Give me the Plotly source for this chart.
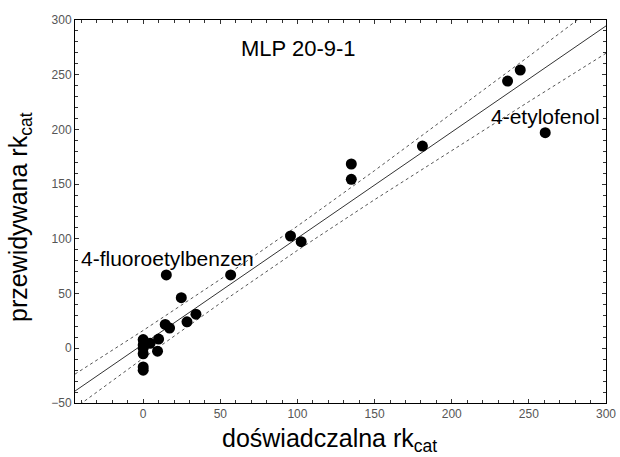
import plotly.graph_objects as go

# Observed (experimental) vs predicted rk_cat values
obs_x = [0, 0, 0, 0, 0, 0, 4.5, 9.3, 10, 14.3, 15, 17.1, 24.7, 28.4, 34.2, 56.7,
         95.5, 102.4, 134.9, 134.9, 181, 236.2, 244.4, 260.6]
pred_y = [8, 3, 0, -5, -17, -20, 4.5, -2.6, 8.4, 21.8, 67, 18.5, 46.2, 24.2, 31.2, 67,
          102.6, 97.4, 168.4, 154.4, 184.8, 244.2, 254.3, 197]

# Regression line and confidence band
fit_x = [-44.2, 300]
fit_y = [-39.1, 294.6]
band_x = [-44.2, 0, 50, 100, 150, 200, 250, 300]
band_upper = [-23.6, 16.3, 63.0, 111.7, 162.4, 214.3, 266.8, 319.6]
band_lower = [-54.6, -9.1, 41.2, 89.5, 135.8, 180.9, 225.4, 269.6]

x_ticks = [0, 50, 100, 150, 200, 250, 300]
y_ticks = [-50, 0, 50, 100, 150, 200, 250, 300]

FONT = "Arial, Liberation Sans, sans-serif"

fig = go.Figure()
fig.add_trace(go.Scatter(x=band_x, y=band_upper, mode="lines",
                         line=dict(color="#555555", width=1, dash="3px,3px"),
                         hoverinfo="skip", showlegend=False))
fig.add_trace(go.Scatter(x=band_x, y=band_lower, mode="lines",
                         line=dict(color="#555555", width=1, dash="3px,3px"),
                         hoverinfo="skip", showlegend=False))
fig.add_trace(go.Scatter(x=fit_x, y=fit_y, mode="lines",
                         line=dict(color="#333333", width=1),
                         hoverinfo="skip", showlegend=False))
fig.add_trace(go.Scatter(x=obs_x, y=pred_y, mode="markers",
                         marker=dict(color="black", size=11),
                         showlegend=False))

fig.add_annotation(x=100.6, y=274, text="MLP 20-9-1", showarrow=False,
                   font=dict(family=FONT, size=22, color="black"))
fig.add_annotation(x=15.6, y=82.4, text="4-fluoroetylbenzen", showarrow=False,
                   font=dict(family=FONT, size=21, color="black"))
fig.add_annotation(x=261, y=212, text="4-etylofenol", showarrow=False,
                   font=dict(family=FONT, size=21, color="black"))

# Axis titles
fig.add_annotation(xref="paper", yref="paper", x=0.48, y=-0.097, yanchor="middle",
                   text="doświadczalna rk<sub>cat</sub>", showarrow=False,
                   font=dict(family=FONT, size=25, color="black"))
fig.add_annotation(xref="paper", yref="paper", x=-0.104, y=0.485, xanchor="center",
                   textangle=-90, text="przewidywana rk<sub>cat</sub>", showarrow=False,
                   font=dict(family=FONT, size=25, color="black"))

axis_common = dict(showgrid=False, zeroline=False, showline=True, linecolor="black",
                   linewidth=1, mirror="allticks", ticks="inside", ticklen=4,
                   tickcolor="#333333", automargin=False,
                   tickfont=dict(family=FONT, size=12, color="#555555"))

fig.update_xaxes(range=[-44.2, 300], tickvals=x_ticks,
                 minor=dict(dtick=10, tick0=0, ticks="inside", ticklen=3, tickcolor="#333333"),
                 **axis_common)
fig.update_yaxes(range=[-50, 300], tickvals=y_ticks,
                 minor=dict(dtick=10, tick0=0, ticks="inside", ticklen=3, tickcolor="#333333"),
                 **axis_common)

fig.update_layout(width=620, height=457, margin=dict(l=75, r=14, t=20, b=54),
                  plot_bgcolor="white", paper_bgcolor="white")

fig.write_html("out.html")
